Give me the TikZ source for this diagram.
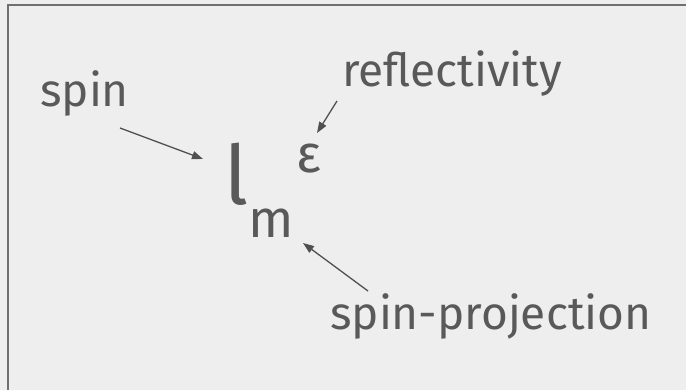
\documentclass[tikz,border=0pt]{standalone}
\usepackage{fontspec}
\setmainfont{Fira Sans}
\definecolor{bg}{HTML}{EEEEEE}
\definecolor{frame}{HTML}{707070}
\definecolor{txt}{HTML}{595959}
\definecolor{arr}{HTML}{505050}
\usetikzlibrary{arrows.meta}
\begin{document}
\begin{tikzpicture}[x=1pt,y=-1pt,
  lbl/.style={inner sep=0pt,anchor=base west,text=txt,font=\fontsize{46}{50}\selectfont},
  sym/.style={inner sep=0pt,anchor=base west,text=txt},
  con/.style={draw=arr,line width=1.3pt,-{Triangle[length=11pt,width=8pt]}}]
\fill[bg] (0,0) rectangle (686,390);
\useasboundingbox (0,0) rectangle (686,390);
\draw[frame,line width=2pt] (8,390) -- (8,5) -- (686,5);
\node[lbl] (spin) at (40,107) {spin};
\node[lbl] (refl) at (342,87) {reflectivity};
\node[lbl] (proj) at (330,330) {spin-projection};
\node[sym,font=\fontsize{82}{90}\selectfont] (l) at (224,205) {l};
\node[sym,font=\fontsize{53}{60}\selectfont] (m) at (248,238) {m};
\node[sym,font=\fontsize{53}{60}\selectfont] (eps) at (296,173) {ε};
\coordinate (spinS) at (120,128);
\coordinate (spinE) at (203,159);
\coordinate (reflS) at (337,101);
\coordinate (reflE) at (317,133);
\coordinate (projS) at (368,291);
\coordinate (projE) at (303,243);
\draw[con] (spinS) -- (spinE);
\draw[con] (reflS) -- (reflE);
\draw[con] (projS) -- (projE);
\end{tikzpicture}
\end{document}
